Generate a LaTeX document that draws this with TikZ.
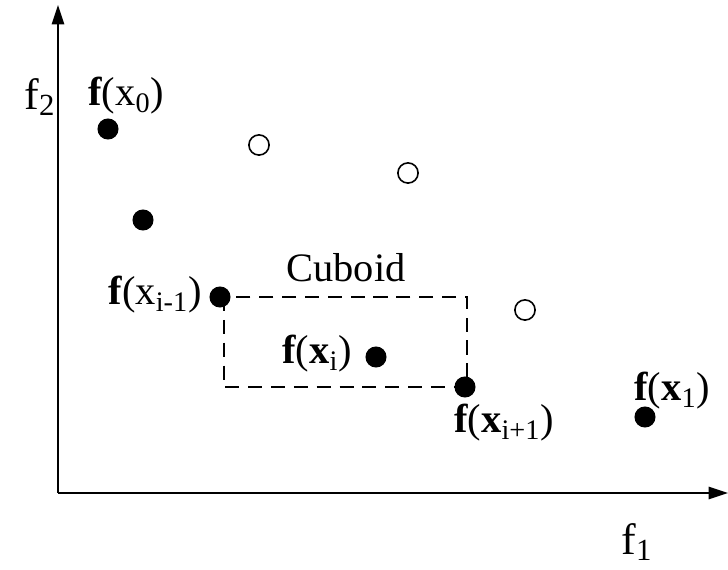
\documentclass[tikz,border=0pt]{standalone}
\usepackage{fontspec}
\setmainfont{Liberation Serif}
\usetikzlibrary{arrows.meta}
\begin{document}
\begin{tikzpicture}[
            x=0.02cm,
            y=-0.02cm,
            axis/.style={
                    -{Triangle[length=11pt, width=7pt]},
                    line width=1.1pt
                },
            front/.style={
                    circle,
                    fill,
                    inner sep=0pt,
                    minimum size=12pt
                },
            behind/.style={
                    circle,
                    draw,
                    line width=0.9pt,
                    inner sep=0pt,
                    minimum size=11.5pt
                },
            cuboid/.style={
                    dash pattern=on 8pt off 5pt,
                    line width=1.1pt
                },
            lbl/.style={
                    font=\fontsize{23}{27}\selectfont,
                    inner sep=0pt
                }
        ]

        \useasboundingbox (0, 0) rectangle (728, 570);

        \coordinate (origin) at (58, 493);
        \coordinate (ytop) at (58, 5);
        \coordinate (xright) at (728, 493);

        \draw[axis] (origin) -- (ytop);
        \draw[axis] (origin) -- (xright);

        \node[lbl, font=\fontsize{25}{29}\selectfont] (ftwo) at (40, 97) {f\textsubscript{2}};
        \node[lbl, font=\fontsize{25}{29}\selectfont] (fone) at (637, 542) {f\textsubscript{1}};

        % dashed box spanned by the two neighbours
        \coordinate (boxtl) at (224, 297);
        \coordinate (boxbr) at (467, 387);
        \draw[cuboid] (boxtl) rectangle (boxbr);
        \node[lbl] (cuboidlbl) at (346, 268) {Cuboid};

        \node[front] (fxzero) at (108, 129) {};
        \node[front] (fxa) at (143, 220) {};
        \node[front] (fxim) at (220, 297) {};
        \node[front] (fxi) at (376, 357) {};
        \node[front] (fxip) at (465, 387) {};
        \node[front] (fxone) at (645, 417) {};

        \node[behind] (dom1) at (259, 145) {};
        \node[behind] (dom2) at (408, 173) {};
        \node[behind] (dom3) at (525, 310) {};

        \node[lbl] (fxzerolbl) at (126, 96) {\textbf{f}(x\textsubscript{0})};
        \node[lbl] (fximlbl) at (155, 295) {\textbf{f}(x\textsubscript{i-1})};
        \node[lbl] (fxilbl) at (317, 354) {\textbf{f}(\textbf{x}\textsubscript{i})};
        \node[lbl] (fxiplbl) at (504, 423) {\textbf{f}(\textbf{x}\textsubscript{i+1})};
        \node[lbl] (fxonelbl) at (672, 391) {\textbf{f}(\textbf{x}\textsubscript{1})};

    \end{tikzpicture}
\end{document}
